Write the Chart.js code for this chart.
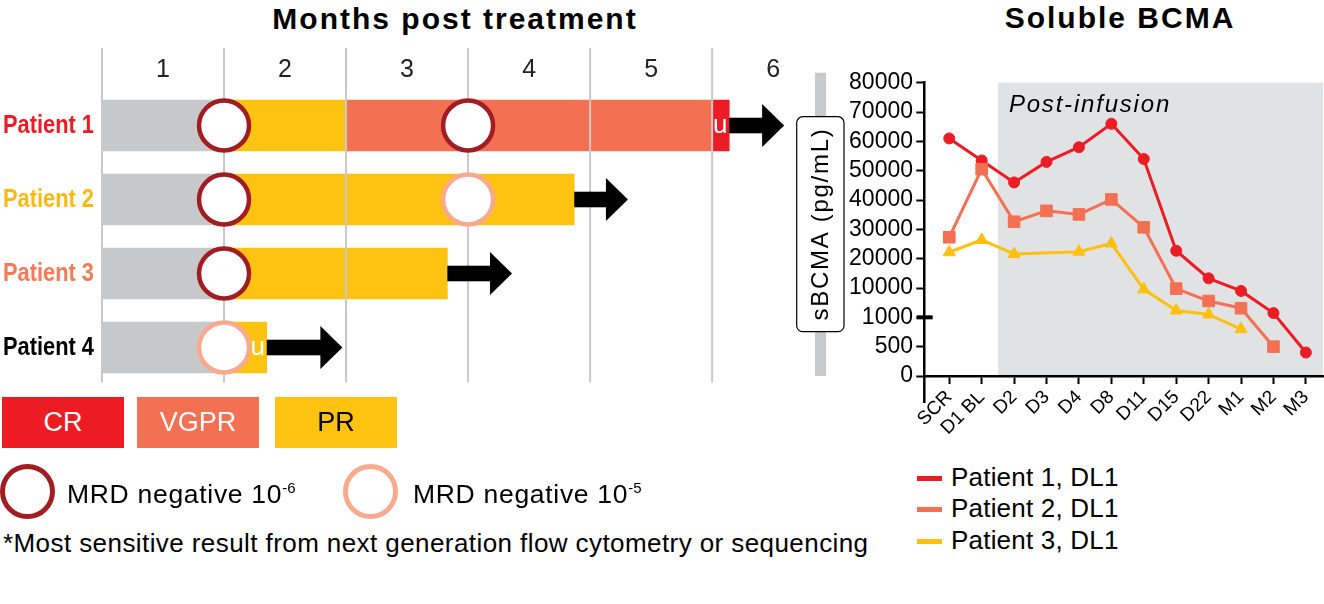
<!DOCTYPE html>
<html lang="en">
<head>
<meta charset="UTF-8">
<title>Months post treatment / Soluble BCMA</title>
<script src="https://cdn.jsdelivr.net/npm/chart.js"></script>
<style>
  body { margin: 0; background: #fff; font-family: 'Liberation Sans', Arial, sans-serif; color: #000; }
  #page { position: relative; width: 1324px; height: 604px; overflow: hidden; }
  .abs { position: absolute; line-height: 1; white-space: nowrap; }
  .title { font-weight: bold; font-size: 30px; letter-spacing: 2px; text-align: center; width: 500px; }
  .box { position: absolute; top: 397px; width: 122px; height: 51px; display: flex; align-items: center;
         justify-content: center; font-size: 27px; color: #fff; }
  .ring { position: absolute; top: 464px; width: 45px; height: 45px; border-radius: 50%; border: 5px solid; background: #fff; }
  .mrd { font-size: 26.5px; top: 481px; letter-spacing: 0.7px; }
  .mrd sup { font-size: 15px; vertical-align: 10px; line-height: 0; letter-spacing: 0; }
  .legline { position: absolute; left: 917px; width: 25px; height: 5px; }
  .legtxt { font-size: 26px; left: 951px; letter-spacing: 0.2px; }
</style>
</head>
<body>
<div id="page">
  <div class="abs title" style="left:205px; top:4px;">Months post treatment</div>
  <div class="abs title" style="left:870px; top:3px;">Soluble BCMA</div>

  <div style="position:absolute; left:0; top:0;"><canvas id="timeline" width="800" height="400"></canvas></div>
  <div style="position:absolute; left:780px; top:0;"><canvas id="sbcma" width="544" height="440"></canvas></div>

  <div class="box" style="left:2px; background:#ed1c24;">CR</div>
  <div class="box" style="left:137px; background:#f37053;">VGPR</div>
  <div class="box" style="left:275px; background:#fec210; color:#000;">PR</div>

  <div class="ring" style="left:0; border-color:#a01d22;"></div>
  <div class="abs mrd" style="left:67px;">MRD negative 10<sup>-6</sup></div>
  <div class="ring" style="left:343px; border-color:#f9aa8e;"></div>
  <div class="abs mrd" style="left:413px;">MRD negative 10<sup>-5</sup></div>

  <div class="abs" style="left:3px; top:530px; font-size:26px; letter-spacing:0.42px;">*Most sensitive result from next generation flow cytometry or sequencing</div>

  <div class="legline" style="top:476px; background:#ec1c24;"></div>
  <div class="abs legtxt" style="top:464px;">Patient 1, DL1</div>
  <div class="legline" style="top:507px; background:#f37053;"></div>
  <div class="abs legtxt" style="top:495px;">Patient 2, DL1</div>
  <div class="legline" style="top:538.5px; background:#fdc010;"></div>
  <div class="abs legtxt" style="top:527px;">Patient 3, DL1</div>
</div>

<script>
  Chart.defaults.font.family = "'Liberation Sans', Arial, sans-serif";
  Chart.defaults.color = '#000';

  // ---- left: response timeline (months) ----
  const patients = ['Patient 1', 'Patient 2', 'Patient 3', 'Patient 4'];
  const patientColors = ['#ed1c24', '#fdb913', '#f47a5a', '#000000'];
  const monthLabels = ['1', '2', '3', '4', '5', '6'];
  const gridMonths = [0, 1, 2, 3, 4, 5];

  const preSeg  = [[0, 1], [0, 1], [0, 1], [0, 1]];
  const prSeg   = [[1, 2], [1, 3.87], [1, 2.83], [1, 1.35]];
  const vgprSeg = [[2, 5], null, null, null];
  const crSeg   = [[5, 5.14], null, null, null];
  const followEnd = [5.14, 3.87, 2.83, 1.35];
  const arrowTip  = [5.59, 4.31, 3.36, 1.97];
  const unconfirmed = ['u', '', '', 'u'];

  const mrd6 = [{x: 1, y: 'Patient 1'}, {x: 3, y: 'Patient 1'}, {x: 1, y: 'Patient 2'}, {x: 1, y: 'Patient 3'}];
  const mrd5 = [{x: 3, y: 'Patient 2'}, {x: 1, y: 'Patient 4'}];

  const monthGrid = {
    id: 'monthGrid',
    beforeDatasetsDraw(chart) { chart.$gridDone = false; },
    beforeDatasetDraw(chart, args) {
      if (chart.$gridDone || args.meta.type !== 'scatter') return;
      chart.$gridDone = true;
      const {ctx, chartArea, scales: {x}} = chart;
      ctx.save();
      ctx.strokeStyle = '#c9c9c9';
      ctx.lineWidth = 2;
      gridMonths.forEach(m => {
        const px = x.getPixelForValue(m);
        ctx.beginPath();
        ctx.moveTo(px, chartArea.top - 40.5);
        ctx.lineTo(px, chartArea.bottom - 2);
        ctx.stroke();
      });
      ctx.restore();
    },
    afterDatasetsDraw(chart) {
      const {ctx, chartArea, scales: {x, y}} = chart;
      ctx.save();
      followEnd.forEach((end, i) => {
        const px = x.getPixelForValue(end);
        const tip = x.getPixelForValue(arrowTip[i]);
        const py = y.getPixelForValue(i);
        // ongoing follow-up arrow
        ctx.fillStyle = '#000';
        ctx.fillRect(px, py - 7.8, tip - 21 - px, 15.6);
        ctx.beginPath();
        ctx.moveTo(tip - 22, py - 21.5);
        ctx.lineTo(tip, py);
        ctx.lineTo(tip - 22, py + 21.5);
        ctx.closePath();
        ctx.fill();
        if (unconfirmed[i]) {
          ctx.fillStyle = '#fff';
          ctx.font = "26px 'Liberation Sans', Arial, sans-serif";
          ctx.textAlign = 'center';
          ctx.textBaseline = 'alphabetic';
          ctx.fillText(unconfirmed[i], px - 9, py + 7.5);
        }
      });
      // patient names, condensed bold
      patients.forEach((name, i) => {
        const py = y.getPixelForValue(i);
        ctx.save();
        ctx.translate(chartArea.left - 8, py);
        ctx.scale(0.84, 1);
        ctx.fillStyle = patientColors[i];
        ctx.font = "bold 26px 'Liberation Sans', Arial, sans-serif";
        ctx.textAlign = 'right';
        ctx.textBaseline = 'middle';
        ctx.fillText(name, 0, 0);
        ctx.restore();
      });
      ctx.restore();
    }
  };

  const barBase = {type: 'bar', barThickness: 51, grouped: false, order: 2, borderWidth: 0};

  new Chart(document.getElementById('timeline'), {
    type: 'bar',
    data: {
      labels: patients,
      datasets: [
        {type: 'scatter', data: mrd6, order: 1, pointRadius: 25, pointBorderWidth: 4.5,
         pointBackgroundColor: '#fff', pointBorderColor: '#a01d22', clip: false},
        {type: 'scatter', data: mrd5, order: 1, pointRadius: 25, pointBorderWidth: 4.5,
         pointBackgroundColor: '#fff', pointBorderColor: '#f9aa8e', clip: false},
        {...barBase, label: 'Pre-response', data: preSeg, backgroundColor: '#c7c8ca'},
        {...barBase, label: 'PR', data: prSeg, backgroundColor: '#fec210'},
        {...barBase, label: 'VGPR', data: vgprSeg, backgroundColor: '#f37053'},
        {...barBase, label: 'CR', data: crSeg, backgroundColor: '#ed1c24'}
      ]
    },
    options: {
      indexAxis: 'y',
      responsive: false,
      animation: false,
      layout: {autoPadding: false, padding: {top: 40.5, bottom: 15.5, left: 0, right: 0}},
      plugins: {legend: {display: false}, tooltip: {enabled: false}},
      scales: {
        x: {
          type: 'linear', position: 'top', min: 0, max: 5.72,
          grid: {display: false, drawTicks: false}, border: {display: false},
          afterBuildTicks: s => { s.ticks = monthLabels.map((l, i) => ({value: i + 0.5})); },
          afterFit: s => { s.height = 48; },
          ticks: {autoSkip: false, maxRotation: 0, padding: 3, color: '#222', font: {size: 25},
                  callback: (v, i) => monthLabels[i]}
        },
        y: {
          type: 'category',
          grid: {display: false, drawTicks: false}, border: {display: false},
          afterFit: s => { s.width = 102; },
          ticks: {display: false}
        }
      }
    },
    plugins: [monthGrid]
  });

  // ---- right: soluble BCMA ----
  const timepoints = ['SCR', 'D1 BL', 'D2', 'D3', 'D4', 'D8', 'D11', 'D15', 'D22', 'M1', 'M2', 'M3'];
  const yTickValues = [0, 500, 1000, 10000, 20000, 30000, 40000, 50000, 60000, 70000, 80000];
  const patient1 = [61000, 53500, 46000, 53000, 58000, 66000, 54000, 22700, 13300, 9100, 2300, 400];
  const patient2 = [27300, 50500, 32600, 36300, 35100, 40200, 30700, 9800, 6000, 3800, 500, null];
  const patient3 = [22200, 26400, 21600, null, 22400, 25200, 9600, 3100, 1900, 800, null, null];
  const infusionStart = 1.5;   // between D1 BL and D2

  // segmented axis: each tick interval gets equal height
  function axisPos(v) {
    for (let k = 0; k < yTickValues.length - 1; k++) {
      if (v <= yTickValues[k + 1]) return k + (v - yTickValues[k]) / (yTickValues[k + 1] - yTickValues[k]);
    }
    return yTickValues.length - 1;
  }
  const toPoints = vals => timepoints.map((t, i) => ({x: i, y: vals[i] == null ? null : axisPos(vals[i])}));

  const sbcmaDecor = {
    id: 'sbcmaDecor',
    beforeDraw(chart) {
      const {ctx, chartArea: a, scales: {x}} = chart;
      ctx.save();
      const sx = x.getPixelForValue(infusionStart);
      ctx.fillStyle = '#e1e2e4';
      ctx.fillRect(sx, a.top, a.right - sx, a.bottom - a.top);
      ctx.fillStyle = '#000';
      ctx.font = "italic 24px 'Liberation Sans', Arial, sans-serif";
      ctx.letterSpacing = '1.8px';
      ctx.textBaseline = 'alphabetic';
      ctx.fillText('Post-infusion', sx + 11, a.top + 29);

      // axis title: grey bar with rounded box
      ctx.fillStyle = '#c8c9cb';
      ctx.fillRect(35, a.top - 10, 11, a.bottom - a.top + 10);
      ctx.beginPath();
      ctx.roundRect(16.7, 116.7, 47.3, 215, 6);
      ctx.fillStyle = '#fff';
      ctx.fill();
      ctx.strokeStyle = '#000';
      ctx.lineWidth = 1.2;
      ctx.stroke();
      ctx.translate(48.3, 224);
      ctx.rotate(-Math.PI / 2);
      ctx.fillStyle = '#000';
      ctx.font = "24px 'Liberation Sans', Arial, sans-serif";
      ctx.letterSpacing = '1.7px';
      ctx.textAlign = 'center';
      ctx.fillText('sBCMA (pg/mL)', 0, 0);
      ctx.restore();
    },
    afterDraw(chart) {
      const {ctx, chartArea: a, scales: {y}} = chart;
      ctx.save();
      ctx.strokeStyle = '#000';
      ctx.lineWidth = 2.5;
      ctx.beginPath();
      ctx.moveTo(a.left, a.bottom);
      ctx.lineTo(a.left, a.bottom + 27);
      ctx.stroke();
      const by = y.getPixelForValue(yTickValues.indexOf(1000));
      ctx.lineWidth = 4;
      ctx.beginPath();
      ctx.moveTo(a.left - 7.6, by);
      ctx.lineTo(a.left + 8.4, by);
      ctx.stroke();
      ctx.restore();
    }
  };

  const lineBase = {type: 'line', borderWidth: 3, tension: 0, spanGaps: true, pointBorderWidth: 1};

  new Chart(document.getElementById('sbcma'), {
    type: 'line',
    data: {
      datasets: [
        {...lineBase, label: 'Patient 1, DL1', data: toPoints(patient1), order: 2,
         borderColor: '#ec1c24', backgroundColor: '#ec1c24', pointStyle: 'circle', pointRadius: 5.5},
        {...lineBase, label: 'Patient 2, DL1', data: toPoints(patient2), order: 1,
         borderColor: '#f37053', backgroundColor: '#f37053', pointStyle: 'rect', pointRadius: 8.2},
        {...lineBase, label: 'Patient 3, DL1', data: toPoints(patient3), order: 1,
         borderColor: '#fdc010', backgroundColor: '#fdc010', pointStyle: 'triangle', pointRadius: 7}
      ]
    },
    options: {
      responsive: false,
      animation: false,
      layout: {autoPadding: false, padding: {top: 82.7, left: 0, right: 0, bottom: 0}},
      plugins: {legend: {display: false}, tooltip: {enabled: false}},
      scales: {
        x: {
          type: 'linear', min: -0.77, max: 11.53,
          afterBuildTicks: s => { s.ticks = timepoints.map((t, i) => ({value: i})); },
          afterFit: s => { s.height = 64; },
          grid: {drawOnChartArea: false, tickLength: 8, tickWidth: 2, tickColor: '#000'},
          border: {color: '#000', width: 2.5},
          ticks: {autoSkip: false, minRotation: 45, maxRotation: 45, padding: 2, font: {size: 19},
                  callback: (v, i) => timepoints[i]}
        },
        y: {
          type: 'linear', min: 0, max: yTickValues.length - 1,
          afterBuildTicks: s => { s.ticks = yTickValues.map((t, i) => ({value: i})); },
          afterFit: s => { s.width = 144.3; },
          grid: {drawOnChartArea: false, tickLength: 8, tickWidth: 2, tickColor: '#000'},
          border: {color: '#000', width: 2.5},
          ticks: {autoSkip: false, padding: 3.3, font: {size: 23},
                  callback: (v, i) => String(yTickValues[i])}
        }
      }
    },
    plugins: [sbcmaDecor]
  });
</script>
</body>
</html>
